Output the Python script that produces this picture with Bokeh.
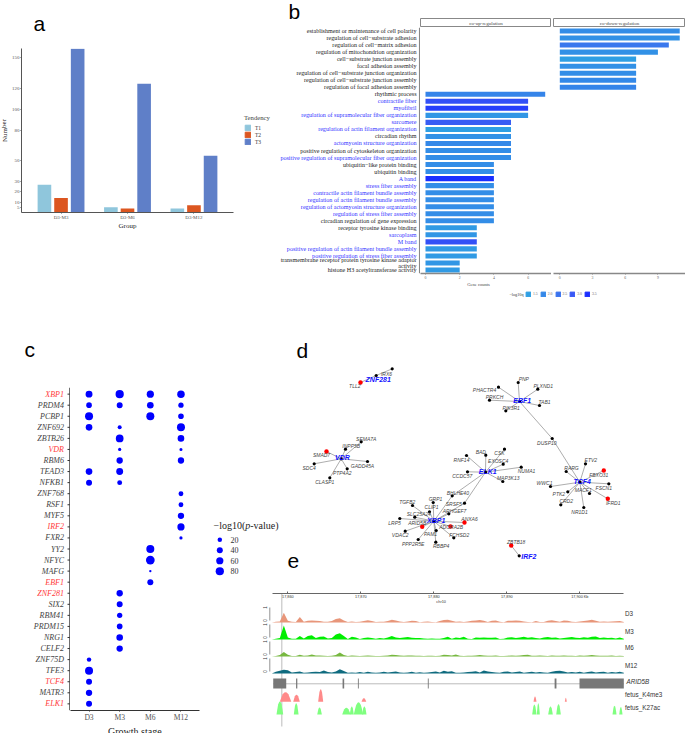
from bokeh.plotting import figure
from bokeh.layouts import row, column
from bokeh.models import (ColumnDataSource, FactorRange, Range1d, Legend, LegendItem, Label, Span,
                          FixedTicker, LinearAxis, LinearColorMapper)
from bokeh.core.properties import value
from bokeh.transform import dodge, transform
from bokeh.embed import file_html
from bokeh.resources import INLINE

SERIF = "Liberation Serif"
SANS = "Liberation Sans"

# ---------- panel a ----------
a_groups = ["D3-M3", "D3-M6", "D3-M12"]
a_series = ["T1", "T2", "T3"]
a_t1 = [27, 5, 4]
a_t2 = [14, 4, 7]
a_t3 = [159, 125, 55]
a_ticks = [5, 10, 20, 30, 50, 80, 100, 120, 150]

# ---------- panel b ----------
b_terms = [
    "establishment or maintenance of cell polarity", "regulation of cell\u2212substrate adhesion",
    "regulation of cell\u2212matrix adhesion", "regulation of mitochondrion organization",
    "cell\u2212substrate junction assembly", "focal adhesion assembly",
    "regulation of cell\u2212substrate junction organization", "regulation of cell\u2212substrate junction assembly",
    "regulation of focal adhesion assembly", "rhythmic process", "contractile fiber", "myofibril",
    "regulation of supramolecular fiber organization", "sarcomere", "regulation of actin filament organization",
    "circadian rhythm", "actomyosin structure organization", "positive regulation of cytoskeleton organization",
    "positive regulation of supramolecular fiber organization", "ubiquitin\u2212like protein binding",
    "ubiquitin binding", "A band", "stress fiber assembly", "contractile actin filament bundle assembly",
    "regulation of actin filament bundle assembly", "regulation of actomyosin structure organization",
    "regulation of stress fiber assembly", "circadian regulation of gene expression",
    "receptor tyrosine kinase binding", "sarcoplasm", "M band",
    "positive regulation of actin filament bundle assembly", "positive regulation of stress fiber assembly",
    "transmembrane receptor protein tyrosine kinase adaptor\nactivity", "histone H3 acetyltransferase activity",
]
b_down_counts = [11, 11, 10, 9, 7, 7, 7, 7, 7]
b_up_counts = [7, 6, 6, 6, 5, 5, 5, 5, 5, 5, 4, 4, 4, 4, 4, 4, 4, 4, 4, 3, 3, 3, 3, 3, 2, 2]
b_q = [1.9, 1.8, 2.4, 1.8, 1.5, 1.8, 1.9, 2.0, 2.1,
       2.1, 3.1, 3.3, 1.7, 2.9, 1.5, 1.8, 2.0, 1.9, 1.9,
       1.9, 1.9, 3.5, 1.9, 1.9, 1.9, 1.9, 1.9, 1.9, 1.6, 1.7, 3.1, 1.6, 1.6, 1.7, 1.6]
b_blue = [10, 11, 12, 13, 14, 16, 18, 21, 22, 23, 24, 25, 26, 29, 30, 31, 32]
b_q_legend = ["1.5", "2.0", "2.5", "3.0", "3.5"]
b_q_colors = ["#2F9FE3", "#3488E8", "#3A73EE", "#3858F5", "#1A2EFF"]

# ---------- panel c ----------
c_stages = ["D3", "M3", "M6", "M12"]
c_tfs = ["XBP1", "PRDM4", "PCBP1", "ZNF692", "ZBTB26", "VDR", "RBM6", "TEAD3", "NFKB1", "ZNF768", "RSF1", "MYF5",
         "IRF2", "FXR2", "YY2", "NFYC", "MAFG", "EBF1", "ZNF281", "SIX2", "RBM41", "PRDM15", "NRG1", "CELF2",
         "ZNF75D", "TFE3", "TCF4", "MATR3", "ELK1"]
c_red = ["XBP1", "VDR", "IRF2", "EBF1", "ZNF281", "TCF4", "ELK1"]
c_d3 = [55, 35, 75, 50, None, None, None, 50, 40, None, None, None, None, None, None, None, None, None, None, None,
        None, None, None, None, 20, 75, 40, 45, 40]
c_m3 = [80, 40, None, 15, 70, 8, 45, 55, 25, None, None, None, None, None, None, None, None, None, 45, 40,
        30, 35, 50, 45, None, None, None, None, None]
c_m6 = [60, 50, 75, None, None, None, None, None, None, None, None, None, None, None, 75, 90, 2, 40, None, None,
        None, None, None, None, None, None, None, None, None]
c_m12 = [65, 30, 35, 75, 50, 7, 45, None, None, 25, 25, 45, 60, 8, None, None, None, None, None, None,
         None, None, None, None, None, None, None, None, None]
c_legend = [20, 40, 60, 80]

# ---------- panel d (network layout) ----------
d_names = ["ZNF281", "TLL2", "IRX6",
           "VDR", "SMAD7", "INPP5B", "SEMA7A", "GADD45A", "SDC4", "PTP4A2", "CLASP1",
           "EBF1", "PNP", "PLXND1", "PHACTR4", "PRKCH", "PIK3R1", "TAB1", "DUSP10",
           "TCF4", "RARG", "ETV2", "FBXO31", "FSCN1", "IFRD1", "MACF1", "PTK2", "WWC1", "CRD2", "NR1D1",
           "ELK1", "BAD", "CSK", "EXOSC4", "NUMA1", "MAP3K13", "RNF14", "CCDC57", "BHLHE40", "SRSF5",
           "XBP1", "ARHGEF7", "GRP1", "CLIP1", "TGFB2", "SLC25A24", "LRP5", "ARID5B", "ANXA6", "ADORA2B", "PAM1",
           "FCHSD2", "VDAC2", "PPP2R5E", "RBBP4", "IRF2", "ZBTB18"]
d_x = [375.7, 360, 391.7,
       340.7, 326, 345, 360.7, 367, 313.7, 346.7, 329.3,
       519, 517.7, 537.3, 498, 489, 505.3, 539, 551.7,
       579.3, 565.7, 585, 603.3, 608.3, 607.3, 589, 567.3, 550, 560.3, 583.3,
       485, 485.3, 504, 502.7, 520.7, 502.3, 466, 467, 451.7, 464,
       433.3, 448.3, 432.7, 429, 412, 414.3, 399.3, 421.7, 464, 450, 435.7,
       453.3, 404.7, 417.7, 435.3, 518.7, 510.7]
d_y = [375, 382, 368.3,
       458.3, 451, 448.7, 441.3, 461, 463.3, 468.3, 477.3,
       401, 382, 388.7, 386.7, 399.7, 410.3, 405, 438,
       481.7, 471, 463.3, 470, 483.3, 498.3, 493, 491.3, 486, 504.3, 507,
       471.7, 454.7, 448.7, 463.7, 466.7, 481, 455, 471.3, 495.3, 502.7,
       520.7, 513.3, 502, 511.3, 505, 516.7, 518, 526.3, 522, 526, 530,
       537.3, 530.7, 539, 541.7, 555.3, 545]
d_label_x = [377.7, 354.3, 386,
             342, 321, 350.7, 365.7, 362, 308.7, 341.7, 324.3,
             521.7, 523.3, 542.7, 484, 494, 510.7, 544, 546.3,
             581.7, 571, 590.3, 598.3, 603.3, 612.7, 582.7, 558.3, 544, 565.7, 579,
             487.3, 480.3, 499, 497.7, 526, 507.7, 461, 461.7, 457.3, 453.3,
             435.7, 454, 435, 431, 406.7, 418.3, 394, 416.7, 469, 450.7, 430,
             458.7, 399.7, 412.7, 440.7, 528.3, 515.7]
d_label_y = [379.3, 385.7, 373.3,
             457.3, 454.7, 445, 438, 465, 467.3, 472.3, 481,
             400.3, 378.3, 385, 389, 396, 407, 401, 442,
             481, 467.3, 459.7, 474.3, 487.3, 502, 489, 493.7, 482.7, 500.7, 511,
             470.7, 451, 452.3, 460, 470, 477.3, 459, 475.3, 492, 503,
             519.7, 510, 498.3, 506.7, 501.3, 513.3, 522, 522.7, 518.3, 526.3, 533.7,
             534, 534.7, 543.3, 545.7, 555.7, 541.7]
d_red = ["TLL2", "SMAD7", "FBXO31", "IFRD1", "ARID5B", "ANXA6", "ADORA2B", "ZBTB18"]
d_hubs = ["ZNF281", "VDR", "EBF1", "TCF4", "ELK1", "XBP1", "IRF2"]
d_edges = {
    "ZNF281": ["TLL2", "IRX6"],
    "VDR": ["SMAD7", "INPP5B", "SEMA7A", "GADD45A", "SDC4", "PTP4A2", "CLASP1"],
    "EBF1": ["PNP", "PLXND1", "PHACTR4", "PRKCH", "PIK3R1", "TAB1", "DUSP10"],
    "TCF4": ["DUSP10", "RARG", "ETV2", "FBXO31", "FSCN1", "IFRD1", "MACF1", "PTK2", "WWC1", "CRD2", "NR1D1"],
    "ELK1": ["BAD", "CSK", "EXOSC4", "NUMA1", "MAP3K13", "RNF14", "CCDC57", "BHLHE40", "SRSF5"],
    "XBP1": ["BHLHE40", "SRSF5", "ARHGEF7", "GRP1", "CLIP1", "TGFB2", "SLC25A24", "LRP5", "ARID5B", "ANXA6",
             "ADORA2B", "PAM1", "FCHSD2", "VDAC2", "PPP2R5E", "RBBP4"],
    "IRF2": ["ZBTB18"],
}

# ---------- panel e ----------
e_ticks = [17860, 17870, 17880, 17890, 17900]
e_tick_labels = ["17,860", "17,870", "17,880", "17,890", "17,900 Kb"]
e_tracks = ["D3", "M3", "M6", "M12"]
e_colors = ["#E8967A", "#00EE00", "#77B840", "#0F6B7F"]
e_d3 = [0, .05, .08, .7, .12, .05, .04, .4, .06, .13,
        .15, .12, .1, .05, .06, .1, .25, .3, .14, .03,
        .08, .03, .06, .1, .16, .1, .03, .06, .05, .1,
        .2, .15, .07, .03, .08, .13, .1, .02, .05, .08,
        .04, .02, .1, .18, .2, .12, .05, .08, .03, .07,
        .12, .15, .18, .12, .03, .12, .15, .06, .02, .12,
        .13, .14, .12, .08, .03, .02, .1, .04, .03, .12,
        .16, .1, .06, .14, .13, .06, .03, .07, .1, .14,
        .2, .13, .06, .08, .05, .08, .09, .1, .04]
e_m3 = [0, .05, .1, 1.0, .15, .05, .06, .25, .08, .25,
        .3, .1, .2, .22, .08, .1, .35, .45, .25, .04,
        .2, .14, .04, .1, .14, .1, .05, .1, .08, .14,
        .25, .15, .1, .14, .18, .12, .1, .1, .07, .05,
        .08, .05, .06, .1, .2, .05, .15, .1, .2, .06,
        .03, .15, .12, .14, .12, .13, .15, .04, .06, .14,
        .16, .1, .14, .2, .12, .16, .1, .08, .14, .18,
        .12, .15, .08, .1, .14, .18, .13, .1, .16, .12,
        .2, .22, .1, .14, .1, .12, .08, .15, .06]
e_m6 = [0, .03, .1, .33, .12, .04, .04, .12, .05, .08,
        .14, .08, .07, .06, .04, .06, .1, .28, .1, .03,
        .08, .05, .03, .06, .08, .05, .03, .04, .05, .08,
        .12, .1, .07, .05, .07, .08, .06, .05, .03, .05,
        .06, .04, .05, .12, .1, .08, .14, .06, .04, .05,
        .06, .08, .1, .07, .05, .06, .08, .04, .03, .06,
        .08, .05, .07, .1, .12, .06, .05, .08, .06, .04,
        .07, .05, .06, .08, .05, .06, .04, .07, .05, .08,
        .1, .07, .05, .06, .05, .07, .04, .05, .03]
e_m12 = [0, .12, .2, .26, .24, .08, .1, .14, .06, .08,
         .1, .12, .1, .22, .1, .07, .14, .3, .18, .05,
         .08, .06, .1, .05, .12, .08, .05, .07, .12, .08,
         .1, .14, .08, .05, .07, .12, .06, .09, .05, .08,
         .1, .14, .08, .2, .12, .16, .06, .05, .08, .1,
         .12, .16, .08, .22, .14, .1, .08, .06, .12, .14,
         .08, .1, .14, .06, .09, .12, .07, .1, .08, .06,
         .12, .18, .2, .14, .08, .1, .07, .12, .06, .1,
         .14, .08, .1, .12, .06, .1, .08, .12, .05]
e_exon_start = [17858.0, 17861.13, 17867.5, 17869.6, 17879.18, 17896.55, 17899.96]
e_exon_end = [17859.78, 17861.3, 17867.72, 17869.72, 17879.3, 17896.8, 17906.03]
e_k4_start = [17858.9, 17860.74, 17864.16, 17870.1, 17893.66, 17897.95]
e_k4_end = [17860.47, 17861.64, 17864.85, 17870.74, 17894.07, 17898.22]
e_k4_height = [9.6, 7, 12.6, 3.6, 5.3, 4]
e_k27_start = [17858.45, 17860.82, 17864.03, 17867.45, 17868.49, 17869.04, 17870.19, 17893.48, 17894.11,
               17895.67, 17896.77, 17904.48, 17905.4]
e_k27_end = [17859.37, 17861.47, 17864.66, 17868.59, 17869.04, 17870.33, 17870.78, 17894.07, 17894.52,
             17896.3, 17897.4, 17905.03, 17905.85]
e_k27_height = [13, 11.3, 7, 6.7, 8, 12.3, 8, 10, 11.3, 8, 10.3, 8.7, 7.3]


def base_fig(width, height, left=0, right=0, top=0, bottom=0, **kw):
    p = figure(width=width, height=height, output_backend="svg", toolbar_location=None, **kw)
    p.min_border_left, p.min_border_right, p.min_border_top, p.min_border_bottom = left, right, top, bottom
    p.outline_line_color = None
    p.grid.visible = False
    p.frame_align = False
    p.frame_height = height - top - bottom
    return p


def header(width, height):
    """A blank strip measured in page pixels, used for texts that sit outside the plot frames."""
    return base_fig(width, height, x_range=Range1d(0, width), y_range=Range1d(height, 0),
                    x_axis_type=None, y_axis_type=None)


def put(p, text, x, y, size="21px", font=SANS, style="normal", color="black", baseline="middle", align="left",
        angle=0):
    p.add_layout(Label(x=x, y=y, text=text, text_font=font, text_font_size=size, text_font_style=style,
                       text_color=color, text_baseline=baseline, text_align=align, angle=angle))


def style_axis(ax, font, size, color, line="#555555", width=1, tick=2):
    ax.major_label_text_font = font
    ax.major_label_text_font_size = size
    ax.major_label_text_color = color
    ax.axis_line_color = line
    ax.axis_line_width = width
    ax.major_tick_line_color = line
    ax.major_tick_out = tick
    ax.major_tick_in = 0
    ax.minor_tick_line_color = None


# ---------- a ----------
a_src = ColumnDataSource(dict(group=a_groups, T1=a_t1, T2=a_t2, T3=a_t3))
a_colors = ["#8FC6DC", "#DC5620", "#5F7FC8"]
a_x = FactorRange(factors=a_groups, range_padding=0.19 / 3)
pa = base_fig(227, 174, left=13, right=2, bottom=10, x_range=a_x, y_range=Range1d(0, 159.2))
for off, name, col in zip([-0.25, 0, 0.25], a_series, a_colors):
    pa.vbar(x=dodge("group", off, range=a_x), top=name, width=0.205, source=a_src, color=col, line_color=None)
pa.yaxis.ticker = FixedTicker(ticks=a_ticks)
style_axis(pa.yaxis[0], SERIF, "5px", "#555555", tick=1)
style_axis(pa.xaxis[0], SERIF, "5px", "#555555", tick=1)
pa.xaxis.major_label_standoff = 1
pa.yaxis.major_label_standoff = 1
head_a = header(235, 48)
put(head_a, "a", 33, 23)
num_a = header(8, 174)
put(num_a, "Number", 4, 82, size="7px", font=SERIF, color="#222222", align="center", angle=1.5708)
foot_a = header(235, 78)
put(foot_a, "Group", 127, 3.6, size="7px", font=SERIF, color="#222222", align="center")
leg_a = header(41, 300)
a_rs = [leg_a.rect(x=[-50], y=[-50], width=1, height=1, color=c) for c in a_colors]
leg_a.add_layout(Legend(items=[LegendItem(label=n, renderers=[r]) for n, r in zip(a_series, a_rs)],
                        location=(9, 155), title="Tendency", title_text_font=SERIF, title_text_font_size="6.7px",
                        title_text_font_style="normal", title_standoff=3, label_text_font=SERIF,
                        label_text_font_size="5.5px", label_text_color="#333333", glyph_width=7, glyph_height=7,
                        label_height=7, label_standoff=4, spacing=0, padding=0, margin=0, border_line_color=None,
                        background_fill_alpha=0))
block_a = row(column(head_a, row(num_a, pa), foot_a), leg_a)

# ---------- b ----------
shades = []
for c0, c1 in zip(b_q_colors[:-1], b_q_colors[1:]):
    rgb0 = [int(c0[i:i + 2], 16) for i in (1, 3, 5)]
    rgb1 = [int(c1[i:i + 2], 16) for i in (1, 3, 5)]
    for k in range(10):
        shades.append("#%02x%02x%02x" % tuple(round(a + (b - a) * k / 10) for a, b in zip(rgb0, rgb1)))
shades.append(b_q_colors[-1])
q_mapper = LinearColorMapper(palette=shades, low=1.5, high=3.5)

b_y = FactorRange(factors=b_terms[::-1])
n_down = len(b_down_counts)
down_src = ColumnDataSource(dict(term=b_terms[:n_down], n=b_down_counts, q=b_q[:n_down]))
up_src = ColumnDataSource(dict(term=b_terms[n_down:], n=b_up_counts, q=b_q[n_down:]))

head_b = header(144, 27)
put(head_b, "b", 12, 11)
strip1 = base_fig(131, 27, top=18, x_range=Range1d(0, 1), y_range=Range1d(0, 1), x_axis_type=None, y_axis_type=None)
strip2 = base_fig(134, 27, left=2, top=18, x_range=Range1d(0, 1), y_range=Range1d(0, 1),
                  x_axis_type=None, y_axis_type=None)
for s, t in [(strip1, "co-up-regulation"), (strip2, "co-down-regulation")]:
    s.outline_line_color = "#888888"
    s.outline_line_width = 1
    put(s, t, 0.5, 0.5, size="5px", font=SERIF, color="#444444", align="center")

term_colors = ["#3333FF" if i in b_blue else "#222222" for i in range(len(b_terms))]
pb0 = base_fig(144, 254, bottom=8, x_range=Range1d(0, 144), y_range=b_y, x_axis_type=None, y_axis_type=None)
pb0.text(x=[140] * len(b_terms), y=b_terms, text=b_terms, text_color=term_colors, text_font=value(SERIF),
         text_font_size="6.1px", text_align="right", text_baseline="middle", text_line_height=1.0)
pb0.add_layout(Span(location=143.2, dimension="height", line_color="#888888", line_width=1.5))
pb1 = base_fig(131, 254, bottom=8, x_range=Range1d(-0.292, 7.368), y_range=b_y)
pb1.hbar(y="term", right="n", left=0, height=0.72, source=up_src,
         fill_color=transform("q", q_mapper), line_color=None)
pb2 = base_fig(134, 254, left=2, bottom=8, x_range=Range1d(-0.578, 11.53), y_range=b_y)
pb2.hbar(y="term", right="n", left=0, height=0.72, source=down_src,
         fill_color=transform("q", q_mapper), line_color=None)
pb1.yaxis.visible = False
pb2.yaxis.visible = False
for pb, tk in [(pb1, [0, 2, 4, 6]), (pb2, [0, 3, 6, 9])]:
    style_axis(pb.xaxis[0], SERIF, "3.8px", "#666666", line="#888888", width=1.5, tick=1)
    pb.xaxis.ticker = FixedTicker(ticks=tk)
    pb.xaxis.major_label_standoff = 1

pbl = header(409, 19)
q_rs = [pbl.rect(x=[-50], y=[-50], width=1, height=1, color=c) for c in b_q_colors]
pbl.add_layout(Legend(items=[LegendItem(label=l, renderers=[r]) for l, r in zip(b_q_legend, q_rs)],
                      orientation="horizontal", location=(249, 3),
                      label_text_font=SERIF, label_text_font_size="3.8px",
                      label_text_color="#666666", glyph_width=6, glyph_height=6, label_height=6, label_width=4,
                      label_standoff=2, spacing=2, padding=0, margin=0, border_line_color=None,
                      background_fill_alpha=0))
put(pbl, "Gene counts", 202, 2.6, size="4.5px", font=SERIF, color="#444444", align="center")
put(pbl, "\u2212log10q", 233, 13, size="4.2px", font=SERIF, color="#333333")
block_b = column(row(head_b, strip1, strip2), row(pb0, pb1, pb2), pbl)


# ---------- c ----------
def dot_size(v):
    return (4 + 0.8 * v) ** 0.5


c_cols = dict(D3=c_d3, M3=c_m3, M6=c_m6, M12=c_m12)
cx, cy, cs = [], [], []
for st in c_stages:
    for tf, v in zip(c_tfs, c_cols[st]):
        if v is not None:
            cx.append(st)
            cy.append(tf)
            cs.append(dot_size(v))
c_y = FactorRange(factors=c_tfs[::-1], range_padding=0.2 / 29)
tf_colors = ["#FF3B3B" if t in c_red else "#444444" for t in c_tfs]
pc0 = base_fig(70, 336, bottom=13, x_range=Range1d(0, 70), y_range=c_y, x_axis_type=None, y_axis_type=None)
pc0.text(x=[63.5] * len(c_tfs), y=c_tfs, text=c_tfs, text_color=tf_colors, text_font=value(SERIF),
         text_font_size="8px", text_font_style="italic", text_align="right", text_baseline="middle")
pc0.segment([67] * len(c_tfs), c_tfs, [69.3] * len(c_tfs), c_tfs, line_color="#333333", line_width=1)
pc0.add_layout(Span(location=69.3, dimension="height", line_color="#333333", line_width=1))
pc = base_fig(135, 336, right=6, bottom=13,
              x_range=FactorRange(factors=c_stages, range_padding=0.21 / 4), y_range=c_y)
pc.scatter(x="x", y="y", size="s", source=ColumnDataSource(dict(x=cx, y=cy, s=cs)), color="#0000FF", line_color=None)
pc.yaxis.visible = False
style_axis(pc.xaxis[0], SERIF, "7.6px", "#555555", line="#333333", tick=1)
pc.xaxis.major_label_standoff = 1
head_c = header(205, 87)
put(head_c, "c", 24, 49)
foot_c = header(205, 10)
put(foot_c, "Growth stage", 134.3, 5, size="10px", font=SERIF, color="#222222", align="center")
block_c = column(head_c, row(pc0, pc), foot_c)

leg_labels = [str(v) for v in c_legend]
head_l = header(75, 234)
for txt, xx, st in [("\u2212log10(", 8, "normal"), ("p", 39.75, "italic"), ("-value)", 44.75, "normal")]:
    put(head_l, txt, xx, 225, size="10px", font=SERIF, style=st, color="#222222")
pl = base_fig(75, 48, right=53, bottom=6, x_range=Range1d(0, 1),
              y_range=FactorRange(factors=leg_labels[::-1]), y_axis_location="right")
pl.xaxis.visible = False
pl.scatter(x=[0.65] * 4, y=leg_labels, size=[dot_size(v) for v in c_legend], color="#0000FF", line_color=None)
style_axis(pl.yaxis[0], SERIF, "8px", "#333333", line=None, tick=0)
pl.yaxis.major_tick_line_color = None
pl.yaxis.major_label_standoff = 3
block_l = column(head_l, pl)

# ---------- d ----------
pd_fig = base_fig(405, 282, x_range=Range1d(280, 685), y_range=Range1d(582, 300), x_axis_type=None, y_axis_type=None)
pos = {n: (x, y) for n, x, y in zip(d_names, d_x, d_y)}
ex0, ey0, ex1, ey1 = [], [], [], []
for hub, targets in d_edges.items():
    for t in targets:
        ex0.append(pos[hub][0]); ey0.append(pos[hub][1]); ex1.append(pos[t][0]); ey1.append(pos[t][1])
pd_fig.segment(ex0, ey0, ex1, ey1, line_color="#8A8A8A", line_width=0.7)
black = [n for n in d_names if n not in d_red]
pd_fig.scatter([pos[n][0] for n in black], [pos[n][1] for n in black], size=3.2, color="black", line_color=None)
pd_fig.scatter([pos[n][0] for n in d_red], [pos[n][1] for n in d_red], size=4.4, color="#FF0000", line_color=None)
plain = [i for i, n in enumerate(d_names) if n not in d_hubs]
hubs = [i for i, n in enumerate(d_names) if n in d_hubs]
pd_fig.text([d_label_x[i] for i in plain], [d_label_y[i] for i in plain], text=[d_names[i] for i in plain],
            text_font=value(SANS), text_font_size="5px", text_font_style="italic", text_color="#444444",
            text_align="center", text_baseline="middle")
pd_fig.text([d_label_x[i] for i in hubs], [d_label_y[i] for i in hubs], text=[d_names[i] for i in hubs],
            text_font=value(SANS), text_font_size="7px", text_font_style="bold italic", text_color="#1010FF",
            text_align="center", text_baseline="middle")
put(pd_fig, "d", 296, 350)
put(pd_fig, "e", 287, 560)

# ---------- e ----------
pe = base_fig(480, 151, left=57, x_range=Range1d(17856.53, 17914.48), y_range=Range1d(733, 582),
              x_axis_type=None, y_axis_type=None)
e_axis = LinearAxis(fixed_location=593.3, ticker=FixedTicker(ticks=e_ticks),
                    major_label_overrides=dict(zip(e_ticks, e_tick_labels)), bounds=(17857.95, 17905.95))
style_axis(e_axis, SANS, "3.8px", "#333333", line="#666666")
e_axis.major_tick_in = 2
e_axis.major_tick_out = 0
e_axis.major_label_standoff = 1
pe.add_layout(e_axis, "below")
pe.segment([17859.18], [593.3], [17859.18], [726], line_color="#BBBBBB", line_width=1)
pe.text([17881.0], [601], text=["chr10"], text_font=value(SANS), text_font_size="3.8px", text_color="#333333",
        text_align="center", text_baseline="middle")
bin_x = [17857.81 + i * 4 / 7.3 for i in range(len(e_d3))]
e_bases = [622, 639, 656, 673]
e_label_y = [613.3, 630.7, 647.3, 664.7]
for sig, base, col, name, ly in zip([e_d3, e_m3, e_m6, e_m12], e_bases, e_colors, e_tracks, e_label_y):
    pe.varea(x=bin_x, y1=[base] * len(sig), y2=[base - v * 14 for v in sig], fill_color=col)
    pe.segment([17857.53], [base - 15], [17857.53], [base - 2], line_color="#666666", line_width=0.7)
    pe.text([17856.94, 17856.94], [base - 15, base - 2], text=["1", "0"], text_font=value(SANS),
            text_font_size="4.5px", text_color="#333333", text_align="center", text_baseline="middle", angle=1.5708)
    pe.text([17906.2], [ly], text=[name], text_font=value(SANS), text_font_size="6.3px", text_color="#333333",
            text_baseline="middle")
pe.segment([17858.0], [683.3], [17906.03], [683.3], line_color="#BBBBBB", line_width=1)
pe.quad(left=e_exon_start, right=e_exon_end, top=[678] * len(e_exon_start), bottom=[688] * len(e_exon_start),
        color="#777777", line_color=None)
pe.text([17906.4], [681], text=["ARID5B"], text_font=value(SANS), text_font_size="6.3px", text_font_style="italic",
        text_color="#333333", text_baseline="middle")
pe.text([17906.2, 17906.2], [694.3, 707.3], text=["fetus_K4me3", "fetus_K27ac"], text_font=value(SANS),
        text_font_size="6.3px", text_color="#333333", text_baseline="middle")
PEAK_U = [0, .12, .25, .4, .5, .6, .75, .88, 1]
PEAK_V = [0, .4, .78, .96, 1, .96, .78, .4, 0]


def peaks(starts, ends, heights, base, color):
    xs = [[s + (e - s) * u for u in PEAK_U] for s, e in zip(starts, ends)]
    ys = [[base - h * v for v in PEAK_V] for h in heights]
    pe.patches(xs, ys, fill_color=color, line_color=None)


peaks(e_k4_start, e_k4_end, e_k4_height, 701.3, "#FF8A8A")
peaks(e_k27_start, e_k27_end, e_k27_height, 714, "#80FF80")

# ---------- page ----------
col2 = column(row(block_l, pd_fig), pe)
root = column(row(block_a, block_b), row(block_c, col2), margin=(0, 0, 0, 0))
open("out.html", "w").write(file_html(root, INLINE))
